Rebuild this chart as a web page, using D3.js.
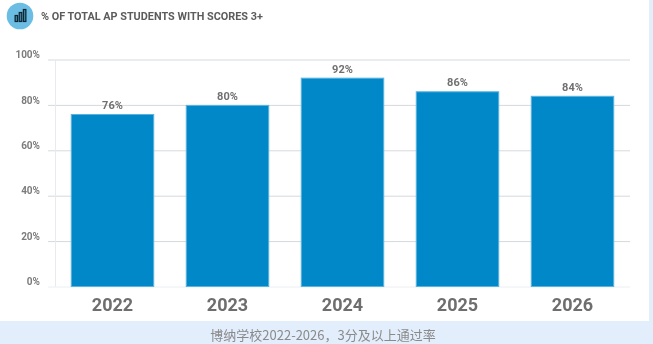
<!DOCTYPE html>
<html><head><meta charset="utf-8">
<script src="https://cdn.jsdelivr.net/npm/d3@7"></script>
<style>html,body{margin:0;padding:0;background:#fff;overflow:hidden}svg{display:block}</style>
</head><body><div id="chart"></div>
<script>
const years = ["2022","2023","2024","2025","2026"];
const passRates = [76,80,92,86,84];
const yTicks = [0,20,40,60,80,100];
const titleText = "% OF TOTAL AP STUDENTS WITH SCORES 3+";
const captionText = "博纳学校2022-2026，3分及以上通过率";
const iconBars = [6,9,12];

const W=653,H=344;
const svg=d3.select("#chart").append("svg").attr("width",W).attr("height",H);
const defs=svg.append("defs");
defs.append("filter").attr("id","soft").append("feGaussianBlur").attr("stdDeviation",0.35);
svg.append("rect").attr("width",W).attr("height",H).attr("fill","#e3eefc");
svg.append("rect").attr("width",649).attr("height",321).attr("fill","#fff");

const g=svg.append("g").attr("filter","url(#soft)");
const x=d3.scaleBand().domain(years).range([55,630]).paddingInner(0.283).paddingOuter(0.1415);
const y=d3.scaleLinear().domain([0,100]).range([286.5,59.5]);

const yAxis=d3.axisLeft(y).tickValues(yTicks).tickSize(-582).tickPadding(8).tickFormat(d=>d+"%");
const ya=g.append("g").attr("transform","translate(48,0)").call(yAxis);
ya.select(".domain").remove();
ya.selectAll("line").attr("stroke",d=>d===0?"#eceef0":"#d6d9dc").attr("stroke-width",1);
ya.selectAll("text").attr("font-family","Roboto").attr("font-weight",700).attr("font-size",10).attr("fill","#7c7c7c").attr("x",-8).attr("dy","-0.18em");
g.append("line").attr("x1",55.5).attr("x2",55.5).attr("y1",y(100)).attr("y2",y(0)).attr("stroke","#e8eaec");

g.selectAll("rect.bar").data(passRates).join("rect").attr("class","bar")
 .attr("x",(d,i)=>x(years[i])).attr("width",x.bandwidth())
 .attr("y",d=>y(d)+0.5).attr("height",d=>y(0)-y(d)-0.5)
 .attr("fill","#0088c9").attr("stroke","#5db3de").attr("stroke-width",1);

g.selectAll("text.val").data(passRates).join("text").attr("class","val")
 .attr("x",(d,i)=>x(years[i])+x.bandwidth()/2).attr("y",d=>y(d)-5)
 .attr("text-anchor","middle").attr("font-family","Roboto").attr("font-weight",700).attr("font-size",11).attr("fill","#707070")
 .text(d=>d+"%");

const xa=g.append("g").attr("transform","translate(0,286.5)").call(d3.axisBottom(x).tickSize(0).tickPadding(12));
xa.select(".domain").remove();
xa.selectAll("text").attr("font-family","Roboto").attr("font-weight",700).attr("font-size",18).attr("fill","#6e6e6e");

g.append("circle").attr("cx",20).attr("cy",16).attr("r",13.3).attr("fill","#6cbde4");
const ix=d3.scaleBand().domain(d3.range(iconBars.length)).range([14,27]).padding(0.15);
g.selectAll("rect.ic").data(iconBars).join("rect").attr("class","ic")
 .attr("x",(d,i)=>ix(i)+0.5).attr("width",ix.bandwidth()-1).attr("y",d=>21.5-d).attr("height",d=>d)
 .attr("fill","#3f7f9e").attr("stroke","#0b2430").attr("stroke-width",1.2);
g.append("text").attr("x",41).attr("y",19.5).attr("font-family","Roboto").attr("font-weight",700).attr("font-size",10.85).attr("fill","#5c5c5c").text(titleText);

g.append("text").attr("x",323).attr("y",340).attr("text-anchor","middle").attr("font-family","'Noto Sans CJK SC'").attr("font-size",13).attr("fill","#8a8a8a").text(captionText);
</script></body></html>
